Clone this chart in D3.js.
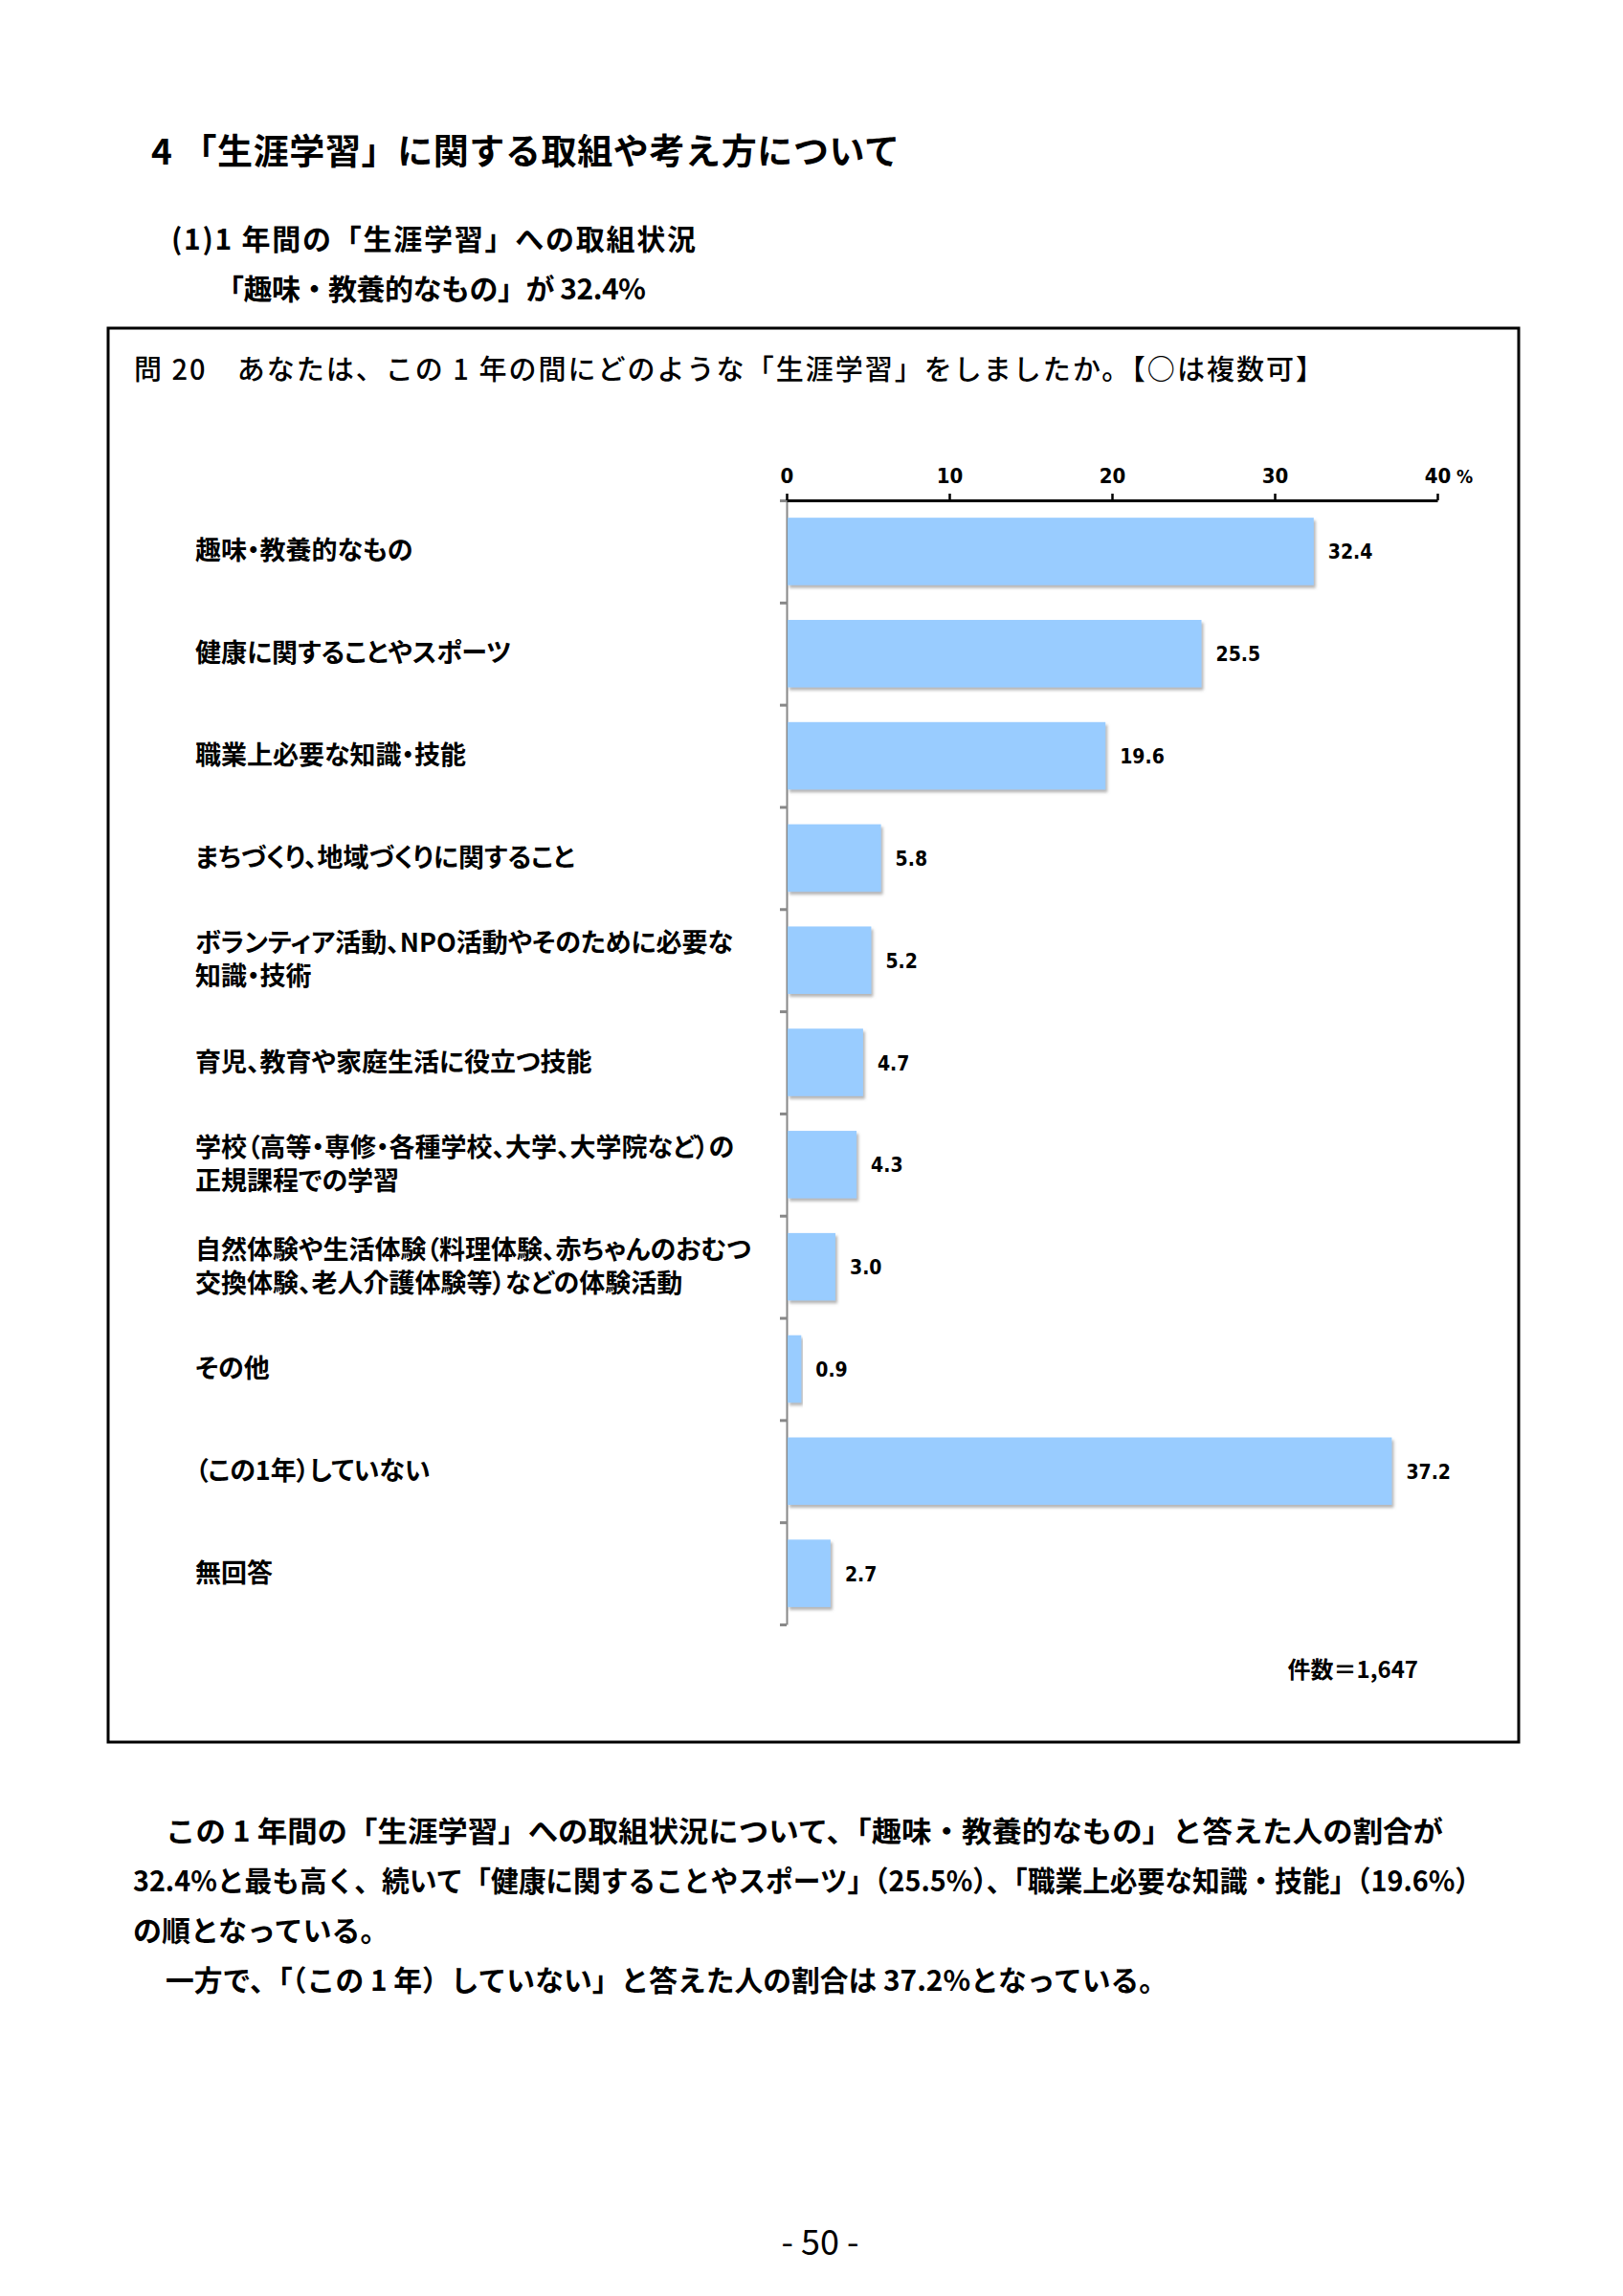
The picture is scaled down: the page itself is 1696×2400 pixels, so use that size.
<!DOCTYPE html>
<html><head><meta charset="utf-8">
<script src="https://cdn.jsdelivr.net/npm/d3@7/dist/d3.min.js"></script>
<style>
body{margin:0;background:#fff;}
svg{display:block;}
.jp{font-family:"Noto Sans CJK JP","Noto Sans",sans-serif;}
.num{font-family:"Liberation Sans Narrow","DejaVu Sans Condensed","Noto Sans",sans-serif;font-weight:bold;}
</style></head>
<body>
<svg id="c" width="1696" height="2400"></svg>
<script>
const categories = [
  ["趣味・教養的なもの"],
  ["健康に関することやスポーツ"],
  ["職業上必要な知識・技能"],
  ["まちづくり、地域づくりに関すること"],
  ["ボランティア活動、NPO活動やそのために必要な", "知識・技術"],
  ["育児、教育や家庭生活に役立つ技能"],
  ["学校（高等・専修・各種学校、大学、大学院など）の", "正規課程での学習"],
  ["自然体験や生活体験（料理体験、赤ちゃんのおむつ", "交換体験、老人介護体験等）などの体験活動"],
  ["その他"],
  ["（この1年）していない"],
  ["無回答"]
];
const values = [32.4, 25.5, 19.6, 5.8, 5.2, 4.7, 4.3, 3.0, 0.9, 37.2, 2.7];
const xTicks = [0, 10, 20, 30, 40];
const unitLabel = "%";
const countLabel = "件数＝1,647";
const titleText = "4 「生涯学習」に関する取組や考え方について";
const subtitleLines = ["(1)1 年間の「生涯学習」への取組状況", "「趣味・教養的なもの」が 32.4%"];
const questionText = "問 20　あなたは、この 1 年の間にどのような「生涯学習」をしましたか。【○は複数可】";
const paragraphLines = [
  "この 1 年間の「生涯学習」への取組状況について、「趣味・教養的なもの」と答えた人の割合が",
  "32.4%と最も高く、続いて「健康に関することやスポーツ」（25.5%）、「職業上必要な知識・技能」（19.6%）",
  "の順となっている。",
  "一方で、「（この 1 年）していない」と答えた人の割合は 37.2%となっている。"
];
const pageNumber = "- 50 -";

const svg = d3.select("#c");
svg.append("rect").attr("width",1696).attr("height",2400).attr("fill","#fff");

const defs = svg.append("defs");
const f = defs.append("filter").attr("id","sh").attr("x","-5%").attr("y","-10%").attr("width","115%").attr("height","130%");
f.append("feDropShadow").attr("dx",2).attr("dy",3).attr("stdDeviation",1.5).attr("flood-color","#777").attr("flood-opacity",0.55);

// Title block
svg.append("text").attr("class","jp").attr("x",158).attr("y",156)
  .attr("dominant-baseline","central").attr("font-size",37).attr("font-weight",700)
  .attr("textLength",782).attr("lengthAdjust","spacing").text(titleText);
svg.append("text").attr("class","jp").attr("x",179).attr("y",248)
  .attr("dominant-baseline","central").attr("font-size",30).attr("font-weight",700)
  .attr("textLength",548).attr("lengthAdjust","spacing").text(subtitleLines[0]);
svg.append("text").attr("class","jp").attr("x",225).attr("y",300)
  .attr("dominant-baseline","central").attr("font-size",30).attr("font-weight",700)
  .attr("textLength",450).attr("lengthAdjust","spacing").text(subtitleLines[1]);

// Frame
svg.append("rect").attr("x",113).attr("y",343).attr("width",1474).attr("height",1478)
  .attr("fill","none").attr("stroke","#000").attr("stroke-width",3);

svg.append("text").attr("class","jp").attr("x",140).attr("y",384)
  .attr("dominant-baseline","central").attr("font-size",29).attr("font-weight",500)
  .attr("textLength",1243).attr("lengthAdjust","spacing").text(questionText);

// Chart
const x = d3.scaleLinear().domain([0,40]).range([822,1502]);
const y = d3.scaleBand().domain(d3.range(values.length)).range([523,1698]).paddingInner(0.34).paddingOuter(0.17);
const yB = d3.scaleLinear().domain([0,values.length]).range([523,1698]);

// left axis (gray) with ticks at category boundaries
const la = svg.append("g").attr("transform","translate(822,0)")
  .call(d3.axisLeft(yB).tickValues(d3.range(values.length+1)).tickSize(7).tickSizeOuter(0).tickFormat(""));
la.select(".domain").attr("stroke","#888").attr("stroke-width",2);
la.selectAll(".tick line").attr("stroke","#888").attr("stroke-width",3);

// bars
svg.append("g").selectAll("rect").data(values).join("rect")
  .attr("x",x(0)+1).attr("y",(d,i)=>y(i))
  .attr("width",d=>x(d)-x(0)-1).attr("height",y.bandwidth())
  .attr("fill","#99CCFF").attr("filter","url(#sh)");

// value labels
svg.append("g").selectAll("text").data(values).join("text")
  .attr("class","num").attr("x",d=>x(d)+15).attr("y",(d,i)=>y(i)+y.bandwidth()/2+1)
  .attr("dominant-baseline","central").attr("font-size",21).attr("fill","#000")
  .text(d=>d3.format(".1f")(d));

// top axis
const ta = svg.append("g").attr("transform","translate(0,523)")
  .call(d3.axisTop(x).tickValues(xTicks).tickSize(7).tickSizeOuter(0).tickPadding(11).tickFormat(d3.format("d")));
ta.select(".domain").attr("stroke","#000").attr("stroke-width",3);
ta.selectAll(".tick line").attr("stroke","#000").attr("stroke-width",2.5);
ta.selectAll(".tick text").attr("class","num").attr("font-size",22).attr("fill","#000");
svg.append("text").attr("class","num").attr("x",x(40)+20).attr("y",505)
  .attr("font-size",19).text(unitLabel);

// category labels
const lg = svg.append("g");
categories.forEach((lines,i)=>{
  const cy = y(i)+y.bandwidth()/2 - 3;
  const t = lg.append("text").attr("class","jp").attr("font-size",27).attr("font-weight",700)
    .attr("dominant-baseline","central").style("font-feature-settings","'palt'");
  lines.forEach((ln,j)=>{
    t.append("tspan").attr("x",204).attr("y",cy + (j-(lines.length-1)/2)*35).text(ln);
  });
});

// count
svg.append("text").attr("class","jp").attr("x",1482).attr("y",1743).attr("text-anchor","end")
  .attr("dominant-baseline","central").attr("font-size",24).attr("font-weight",700).text(countLabel);

// paragraph
const pX = [173,139,139,173], pY = [1912,1964,2016,2068], pW = [1335,1410,null,1047];
paragraphLines.forEach((ln,i)=>{
  const t = svg.append("text").attr("class","jp").attr("x",pX[i]).attr("y",pY[i])
    .attr("dominant-baseline","central").attr("font-size",30).attr("font-weight",700)
    .text(ln);
  if(pW[i]) t.attr("textLength",pW[i]).attr("lengthAdjust","spacingAndGlyphs");
});

svg.append("text").attr("class","jp").attr("x",857).attr("y",2341).attr("text-anchor","middle")
  .attr("dominant-baseline","central").attr("font-size",36).text(pageNumber);
</script>
</body></html>
